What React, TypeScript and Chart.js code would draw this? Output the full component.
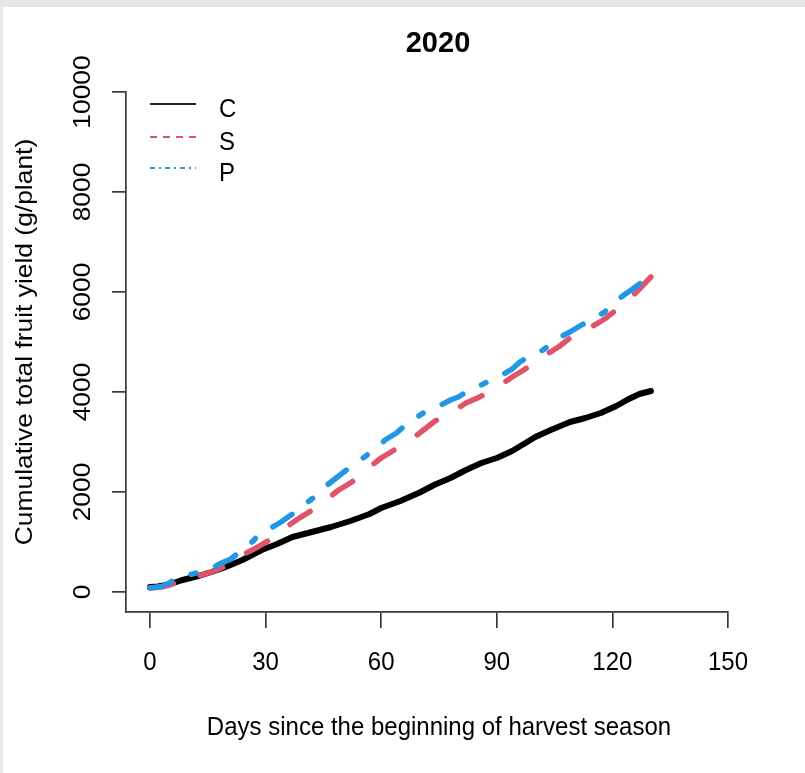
import { useEffect, useRef } from "react";
import { Chart, registerables } from "chart.js";

Chart.register(...registerables);

const X_TICKS = [0, 30, 60, 90, 120, 150];
const Y_TICKS = [0, 2000, 4000, 6000, 8000, 10000];

// C (control)
const C_DAYS = [0, 2, 5, 8, 10, 13, 16, 20, 24, 29, 33, 37, 42, 47, 52, 57, 60, 65, 70, 74, 78, 82, 86, 90, 94, 97, 100, 104, 109, 113, 117, 121, 124, 127, 130];
const C_YIELD = [100, 110, 150, 230, 270, 330, 400, 510, 640, 840, 960, 1100, 1200, 1300, 1420, 1560, 1680, 1820, 1990, 2150, 2280, 2440, 2580, 2680, 2820, 2960, 3100, 3240, 3400, 3480, 3580, 3720, 3850, 3960, 4020];

// S
const S_DAYS = [0, 3, 5, 8, 11, 14, 16, 19, 22, 25, 28, 31, 34, 38, 43, 46, 49, 52, 55, 58, 60, 63, 66, 69, 71, 74, 77, 80, 82, 85, 88, 91, 94, 97, 100, 103, 106, 109, 112, 115, 118, 121, 123, 126, 128, 130];
const S_YIELD = [80, 100, 140, 220, 300, 350, 400, 500, 620, 780, 900, 1040, 1220, 1440, 1680, 1860, 2040, 2180, 2340, 2560, 2680, 2820, 2980, 3120, 3240, 3420, 3540, 3680, 3780, 3880, 4000, 4140, 4300, 4440, 4600, 4760, 4900, 5080, 5200, 5320, 5460, 5640, 5780, 5980, 6140, 6300];

// P
const P_DAYS = [0, 3, 5, 7, 10, 13, 16, 18, 21, 23, 26, 28, 31, 34, 37, 39, 42, 44, 46, 49, 51, 54, 57, 59, 61, 64, 66, 68, 71, 75, 78, 80, 83, 85, 88, 91, 94, 96, 99, 102, 104, 106, 109, 112, 115, 118, 120, 123, 126, 129, 130];
const P_YIELD = [80, 110, 180, 280, 340, 400, 460, 560, 660, 780, 960, 1120, 1260, 1400, 1560, 1680, 1860, 2000, 2140, 2320, 2440, 2600, 2780, 2880, 3040, 3180, 3320, 3440, 3580, 3720, 3840, 3900, 4040, 4100, 4220, 4320, 4460, 4600, 4740, 4840, 4960, 5080, 5200, 5340, 5460, 5600, 5760, 5940, 6100, 6280, 6320];

const NAMES = ["C", "S", "P"];
const COLORS = ["#000000", "#DF536B", "#2297E6"];

const FONT = '"Liberation Sans", Arial, sans-serif';
const STRETCH = 1.1;

function label(
  ctx: CanvasRenderingContext2D,
  s: string,
  x: number,
  y: number,
  font: string,
  align: CanvasTextAlign,
  rot: number,
  stretch = STRETCH
) {
  ctx.save();
  ctx.translate(x, y);
  ctx.scale(1, stretch);
  ctx.rotate(rot);
  ctx.font = font;
  ctx.textAlign = align;
  ctx.textBaseline = "alphabetic";
  ctx.fillText(s, 0, 0);
  ctx.restore();
}

const annotate = {
  id: "annotate",
  afterDraw(chart: Chart) {
    const { ctx } = chart;
    const x = chart.scales.x;
    const y = chart.scales.y;
    ctx.save();
    ctx.fillStyle = "#000";
    const f = `24px ${FONT}`;
    X_TICKS.forEach((v) => label(ctx, String(v), x.getPixelForValue(v), 670, f, "center", 0));
    Y_TICKS.forEach((v) => label(ctx, String(v), 90, y.getPixelForValue(v), f, "center", -Math.PI / 2));
    label(ctx, "Days since the beginning of harvest season", 439, 735, f, "center", 0);
    label(ctx, "Cumulative total fruit yield (g/plant)", 32, 342, f, "center", -Math.PI / 2);
    label(ctx, "2020", 438, 52, `bold 29px ${FONT}`, "center", 0, 1.0);

    // legend
    const dashes = [[], [7, 6], [5, 4, 2, 4]];
    const rows = [104, 137, 168];
    NAMES.forEach((n, i) => {
      ctx.save();
      ctx.strokeStyle = COLORS[i];
      ctx.globalAlpha = i === 0 ? 0.85 : 1;
      ctx.lineWidth = 2.2;
      ctx.setLineDash(dashes[i]);
      ctx.beginPath();
      ctx.moveTo(150, rows[i]);
      ctx.lineTo(196, rows[i]);
      ctx.stroke();
      ctx.restore();
      label(ctx, n, 219, rows[i] + 13, f, "left", 0);
    });
    ctx.restore();
  },
};

export default function App() {
  const ref = useRef<HTMLCanvasElement | null>(null);

  useEffect(() => {
    document.body.style.margin = "0";
    if (!ref.current) return;
    const axisColor = "#3a3a3a";
    const toPts = (d: number[], v: number[]) => d.map((day, i) => ({ x: day, y: v[i] }));
    const chart = new Chart(ref.current, {
      type: "line",
      data: {
        datasets: [
          {
            label: NAMES[0],
            data: toPts(C_DAYS, C_YIELD),
            borderColor: COLORS[0],
            borderWidth: 6,
            order: 3,
          },
          {
            label: NAMES[1],
            data: toPts(S_DAYS, S_YIELD),
            borderColor: COLORS[1],
            borderWidth: 5.5,
            borderDash: [24, 28],
            order: 2,
          },
          {
            label: NAMES[2],
            data: toPts(P_DAYS, P_YIELD),
            borderColor: COLORS[2],
            borderWidth: 5.5,
            borderDash: [23, 21, 5, 21],
            order: 1,
          },
        ],
      },
      options: {
        responsive: false,
        animation: false,
        events: [],
        datasets: {
          line: {
            pointRadius: 0,
            tension: 0,
            borderCapStyle: "round",
            borderJoinStyle: "round",
            fill: false,
          },
        },
        layout: { padding: { top: 92, right: 77, left: 0, bottom: 0 } },
        plugins: { legend: { display: false }, tooltip: { enabled: false }, title: { display: false } },
        scales: {
          x: {
            type: "linear",
            min: -6.2,
            max: 150,
            afterBuildTicks: (s) => {
              s.ticks = X_TICKS.map((v) => ({ value: v }));
            },
            afterFit: (s) => {
              s.height = 161;
            },
            ticks: { display: false },
            grid: { drawOnChartArea: false, drawTicks: true, tickLength: 16, color: axisColor, lineWidth: 1.7 },
            border: { display: true, color: axisColor, width: 1.7 },
          },
          y: {
            type: "linear",
            min: -400,
            max: 10000,
            afterBuildTicks: (s) => {
              s.ticks = Y_TICKS.map((v) => ({ value: v }));
            },
            afterFit: (s) => {
              s.width = 126;
            },
            ticks: { display: false },
            grid: { drawOnChartArea: false, drawTicks: true, tickLength: 14, color: axisColor, lineWidth: 1.7 },
            border: { display: true, color: axisColor, width: 1.7 },
          },
        },
      },
      plugins: [annotate],
    });
    return () => chart.destroy();
  }, []);

  return (
    <div style={{ position: "relative", width: 805, height: 773, background: "#e6e6e4", overflow: "hidden" }}>
      <div style={{ position: "absolute", left: 3, top: 7, right: 0, bottom: 0, background: "#ffffff" }} />
      <canvas ref={ref} width={805} height={773} style={{ position: "absolute", left: 0, top: 0 }} />
    </div>
  );
}
